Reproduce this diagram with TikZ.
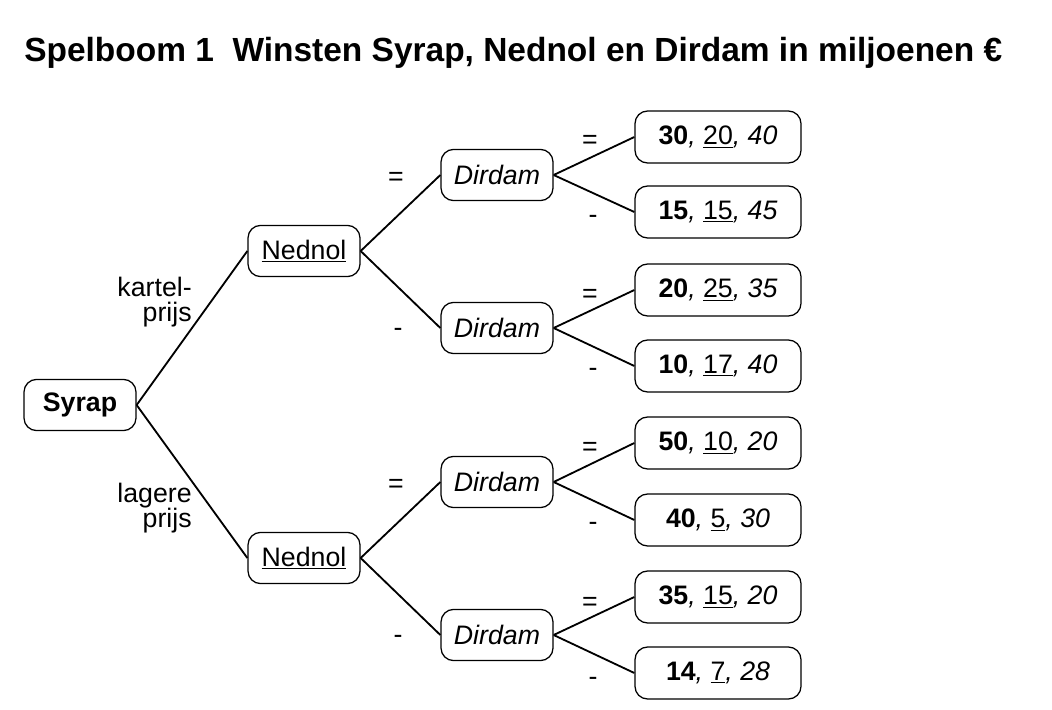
\documentclass[tikz,border=0pt]{standalone}
\usepackage{fontspec}
\setmainfont{Liberation Sans}
\begin{document}
\begin{tikzpicture}[x=0.025cm,y=-0.025cm,
  box/.style={draw,rounded corners=9pt,line width=0.9pt,inner sep=0pt,font=\fontsize{19}{22}\selectfont},
  playerbox/.style={box,minimum width=2.8cm,minimum height=1.28cm},
  leafbox/.style={box,minimum width=4.15cm,minimum height=1.3cm},
  branch/.style={line width=1.3pt},
  lbl/.style={font=\fontsize{19}{18}\selectfont,inner sep=0pt}]
\useasboundingbox (0,0) rectangle (1052,710);
% titel
\node[anchor=base west,inner sep=0pt,font=\fontsize{23.8}{28}\selectfont\bfseries] (title) at (24,61) {Spelboom 1\ \ Winsten Syrap, Nednol en Dirdam in miljoenen €};
% spelers
\node[playerbox] (syrap) at (80,405) {\textbf{Syrap}};
\node[playerbox] (ned1) at (304,251) {\underline{Nednol}};
\node[playerbox] (ned2) at (304,558) {\underline{Nednol}};
\node[playerbox] (dir1) at (497,175) {\textit{Dirdam}};
\node[playerbox] (dir2) at (497,328) {\textit{Dirdam}};
\node[playerbox] (dir3) at (497,482) {\textit{Dirdam}};
\node[playerbox] (dir4) at (497,635) {\textit{Dirdam}};
% uitkomsten
\node[leafbox] (w1) at (718,137) {\textbf{30}\textit{,} \underline{20}\textit{,} \textit{40}};
\node[leafbox] (w2) at (718,212) {\textbf{15}\textit{,} \underline{15}\textit{,} \textit{45}};
\node[leafbox] (w3) at (718,290) {\textbf{20}\textit{,} \underline{25}\textit{,} \textit{35}};
\node[leafbox] (w4) at (718,366) {\textbf{10}\textit{,} \underline{17}\textit{,} \textit{40}};
\node[leafbox] (w5) at (718,443) {\textbf{50}\textit{,} \underline{10}\textit{,} \textit{20}};
\node[leafbox] (w6) at (718,520) {\textbf{40}\textit{,} \underline{5}\textit{,} \textit{30}};
\node[leafbox] (w7) at (718,597) {\textbf{35}\textit{,} \underline{15}\textit{,} \textit{20}};
\node[leafbox] (w8) at (718,673) {\textbf{14}\textit{,} \underline{7}\textit{,} \textit{28}};
% takken
\draw[branch] (syrap.east) -- (ned1.west);
\draw[branch] (syrap.east) -- (ned2.west);
\foreach \n/\a/\b in {ned1/dir1/dir2,ned2/dir3/dir4}{
  \draw[branch] (\n.east) -- (\a.west);
  \draw[branch] (\n.east) -- (\b.west);
}
\foreach \d/\a/\b in {dir1/w1/w2,dir2/w3/w4,dir3/w5/w6,dir4/w7/w8}{
  \draw[branch] (\d.east) -- (\a.west);
  \draw[branch] (\d.east) -- (\b.west);
}
% labels
\node[lbl,align=right,anchor=east] (kartel) at (192,302) {kartel-\\prijs};
\node[lbl,align=right,anchor=east] (lager) at (192,508) {lagere\\prijs};
\foreach \x/\y/\t [count=\i] in {396/179/=,398/332/-,396/486/=,398/639/-,
  590/142/=,593/219/-,590/296/=,593/372/-,590/449/=,593/526/-,590/604/=,593/681/-}
  \node[lbl] (k\i) at (\x,\y) {\t};
\end{tikzpicture}
\end{document}
